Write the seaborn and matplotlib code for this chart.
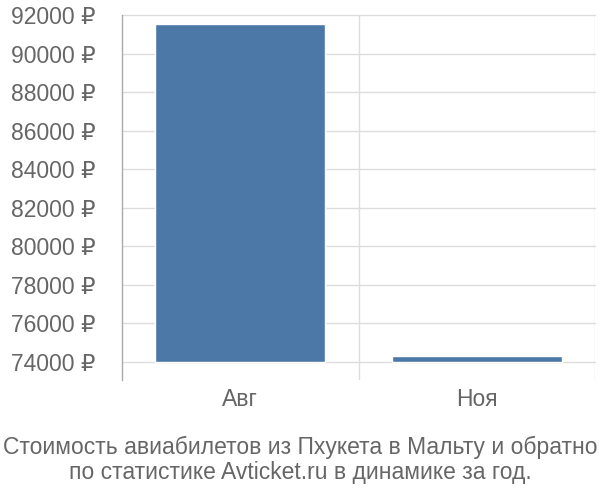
import matplotlib
matplotlib.use("Agg")
import matplotlib.pyplot as plt
import seaborn as sns

months = ["Авг", "Ноя"]
prices = [91550, 74310]
base_price = 74000
y_ticks = list(range(74000, 92001, 2000))
title = ("Стоимость авиабилетов из Пхукета в Мальту и обратно\n"
         "по статистике Avticket.ru в динамике за год.")

sns.set_style("white")
plt.rcParams["font.family"] = ["Liberation Sans", "DejaVu Sans"]

fig = plt.figure(figsize=(6, 5), dpi=100)
ax = fig.add_axes([122 / 600, 1 - 380 / 500, (595 - 122) / 600, (380 - 15) / 500])

heights = [p - base_price for p in prices]
sns.barplot(x=months, y=heights, bottom=base_price, color="#4c78a8",
            saturation=1, width=0.72, ax=ax)

ax.set_ylim(73066, 92000)
ax.set_xlim(-0.5, 1.5)
ax.set_yticks(y_ticks)
ax.set_yticklabels([f"{t} ₽" for t in y_ticks])

grid_c = "#dddddd"
for t in y_ticks:
    ax.axhline(t, color=grid_c, lw=1, zorder=0, clip_on=False)
for xb in [0.5, 1.5]:
    ax.axvline(xb, color=grid_c, lw=1, zorder=0)

for s in ["top", "right", "bottom"]:
    ax.spines[s].set_visible(False)
ax.spines["left"].set_color("#aaaaaa")
ax.spines["left"].set_linewidth(1)

ax.tick_params(axis="y", length=17, width=1, color=grid_c, pad=2,
               labelsize=16.5, labelcolor="#666666")
ax.tick_params(axis="x", length=0, pad=6, labelsize=16.5, labelcolor="#666666")
ax.set_xlabel("")
ax.set_ylabel("")

fig.text(0.5, 1 - 460 / 500, title, ha="center", va="center",
         fontsize=16.5, color="#666666", linespacing=1.15)

fig.savefig("out.png", dpi=100)
